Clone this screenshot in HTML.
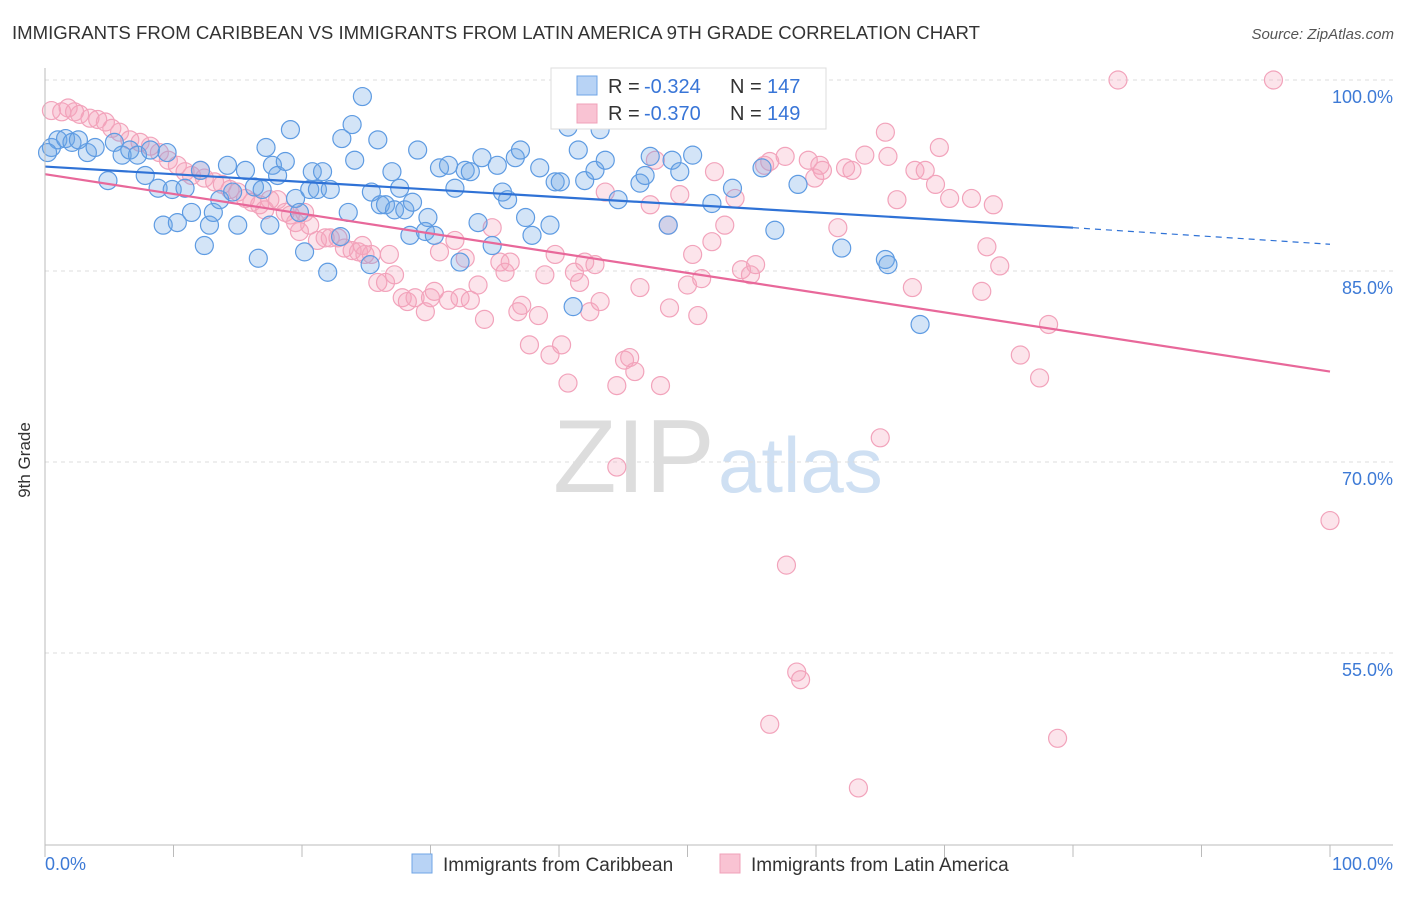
<!DOCTYPE html>
<html><head><meta charset="utf-8"><style>
body{margin:0;background:#fff;font-family:"Liberation Sans",sans-serif}
svg text{font-family:"Liberation Sans",sans-serif}
</style></head><body>
<svg id="c" width="1406" height="892" xmlns="http://www.w3.org/2000/svg">
<text x="12" y="39" font-size="18.6" fill="#333">IMMIGRANTS FROM CARIBBEAN VS IMMIGRANTS FROM LATIN AMERICA 9TH GRADE CORRELATION CHART</text>
<text x="1394" y="39" font-size="15" fill="#555" text-anchor="end" font-style="italic">Source: ZipAtlas.com</text>
<g><text x="553" y="492" font-size="104" fill="#ddd" font-family="Liberation Serif">ZIP</text><text x="718" y="492" font-size="78" fill="#cfe0f3">atlas</text></g>
<g id="grid"></g><g id="pts"></g><g id="lines"></g><g id="axes"></g>
<text x="30" y="460" font-size="17" fill="#333" transform="rotate(-90 30 460)" text-anchor="middle">9th Grade</text>
<g>
<rect x="551" y="68" width="275" height="61" fill="#fff" stroke="#ddd"/>
<rect x="577" y="76" width="20" height="19" fill="#b8d3f5" stroke="#6fa4e6"/>
<rect x="577" y="104" width="20" height="19" fill="#f9c3d3" stroke="#f0a0b8"/>
<text x="608" y="93" font-size="20" fill="#333">R =</text><text x="644" y="93" font-size="20" fill="#3875d7">-0.324</text>
<text x="730" y="93" font-size="20" fill="#333">N =</text><text x="767" y="93" font-size="20" fill="#3875d7">147</text>
<text x="608" y="120" font-size="20" fill="#333">R =</text><text x="644" y="120" font-size="20" fill="#3875d7">-0.370</text>
<text x="730" y="120" font-size="20" fill="#333">N =</text><text x="767" y="120" font-size="20" fill="#3875d7">149</text>
</g>
<g>
<rect x="412" y="854" width="20" height="19" fill="#b8d3f5" stroke="#6fa4e6"/>
<text x="443" y="871" font-size="19" fill="#333">Immigrants from Caribbean</text>
<rect x="720" y="854" width="20" height="19" fill="#f9c3d3" stroke="#f0a0b8"/>
<text x="751" y="871" font-size="19" fill="#333">Immigrants from Latin America</text>
</g>
</svg>
<script>
const yTicks=[100,85,70,55];
const yTickLabels=["100.0%","85.0%","70.0%","55.0%"];
const xTickLabels=["0.0%","100.0%"];
const blueX=[0.5,1.0,1.6,2.1,2.6,3.3,3.9,4.9,5.4,6.0,6.6,7.2,7.8,8.2,8.8,9.2,9.5,9.9,10.3,10.9,11.4,12.1,12.4,12.8,13.1,13.6,14.2,14.6,15.0,15.6,16.3,16.6,16.9,17.2,17.5,17.7,18.1,18.7,19.1,19.5,19.8,20.2,20.6,20.8,21.2,21.6,22.0,22.2,23.0,23.1,23.6,23.9,24.1,24.7,25.3,25.4,25.9,26.1,26.5,27.0,27.2,27.6,28.0,28.4,28.6,29.0,29.6,29.8,30.3,30.7,31.4,31.9,32.3,32.7,33.1,33.7,34.0,34.8,35.2,35.6,36.0,36.6,37.0,37.4,37.9,38.5,39.3,39.7,40.1,40.7,41.1,41.5,42.0,42.8,43.6,44.6,46.3,46.7,47.1,48.5,48.8,49.4,50.4,52.1,51.9,53.5,55.8,56.8,58.6,62.0,65.4,65.6,68.1,0.2,43.2];
const blueY=[94.7,95.3,95.4,95.1,95.3,94.3,94.7,92.1,95.1,94.1,94.5,94.1,92.5,94.5,91.5,88.6,94.3,91.4,88.8,91.5,89.6,92.9,87.0,88.6,89.6,90.6,93.3,91.2,88.6,92.9,91.6,86.0,91.4,94.7,88.6,93.3,92.5,93.6,96.1,90.7,89.6,86.5,91.4,92.8,91.4,92.8,84.9,91.4,87.7,95.4,89.6,96.5,93.7,98.7,85.5,91.2,95.3,90.2,90.2,92.8,89.8,91.5,89.8,87.8,90.4,94.5,88.1,89.2,87.8,93.1,93.3,91.5,85.7,92.9,92.8,88.8,93.9,87.0,93.3,91.2,90.6,93.9,94.5,89.2,87.8,93.1,88.6,92.0,92.0,96.3,82.2,94.5,92.1,92.9,93.7,90.6,91.9,92.5,94.0,88.6,93.7,92.8,94.1,99.8,90.3,91.5,93.1,88.2,91.8,86.8,85.9,85.5,80.8,94.3,96.1];
const pinkX=[0.5,1.3,1.8,2.3,2.7,3.5,4.1,4.7,5.2,5.8,6.6,7.4,8.2,8.9,9.6,10.3,10.9,11.4,12.1,12.4,13.2,13.8,14.4,15.0,15.6,16.1,16.7,17.1,17.5,18.1,18.7,19.1,19.5,19.8,20.2,20.6,21.2,21.8,22.2,22.8,23.3,23.9,24.4,24.7,24.9,25.4,25.9,26.5,26.8,27.2,27.8,28.2,28.8,29.6,30.0,30.3,30.7,31.4,31.9,32.3,32.7,33.1,33.7,34.2,34.8,35.4,35.8,36.2,36.8,37.1,37.7,38.4,38.9,39.3,39.7,40.2,40.7,41.2,41.6,42.0,42.4,42.8,43.2,43.6,44.5,45.1,45.5,45.9,46.3,47.1,47.5,47.9,48.5,48.6,49.4,50.0,50.4,50.8,51.1,51.9,52.1,52.9,53.7,54.2,54.9,55.3,56.0,56.4,57.6,57.7,58.5,58.8,59.4,59.9,60.3,60.5,61.7,62.3,62.8,63.3,63.8,65.0,65.4,65.6,66.3,67.5,67.7,68.5,69.3,69.6,70.4,72.1,72.9,73.3,73.8,74.3,75.9,77.4,78.1,78.8,83.5,95.6,100.0,44.5,56.4];
const pinkY=[97.6,97.5,97.8,97.5,97.3,97.0,96.9,96.7,96.2,95.9,95.3,95.1,94.8,94.3,93.7,93.3,92.8,92.5,92.9,92.3,92.0,91.8,91.4,91.2,90.7,90.4,90.2,89.8,90.6,90.6,89.6,89.4,88.8,88.1,89.6,88.6,87.4,87.6,87.6,87.6,86.8,86.6,86.5,87.0,86.3,86.3,84.1,84.1,86.3,84.7,82.9,82.6,82.9,81.8,82.9,83.4,86.5,82.7,87.4,82.9,86.0,82.7,83.9,81.2,88.4,85.7,84.9,85.7,81.8,82.3,79.2,81.5,84.7,78.4,86.3,79.2,76.2,84.9,84.1,85.7,81.8,85.5,82.6,91.2,76.0,78.0,78.2,77.1,83.7,90.2,93.7,76.0,88.6,82.1,91.0,83.9,86.3,81.5,84.4,87.3,92.8,88.6,90.7,85.1,84.7,85.5,93.3,93.6,94.0,61.9,53.5,52.9,93.7,92.3,93.3,92.9,88.4,93.1,92.9,44.4,94.1,71.9,95.9,94.0,90.6,83.7,92.9,92.9,91.8,94.7,90.7,90.7,83.4,86.9,90.2,85.4,78.4,76.6,80.8,48.3,100.0,100.0,65.4,69.6,49.4];
const blueTrend=[93.2,88.4,87.1]; // at x=0, 80, 100
const pinkTrend=[92.6,77.1];       // at x=0, 100
const NS="http://www.w3.org/2000/svg";
const sx=v=>45+v*12.85, sy=v=>80+(100-v)*12.733;
function mk(p,t,a){const e=document.createElementNS(NS,t);for(const k in a)e.setAttribute(k,a[k]);p.appendChild(e);return e;}
const grid=document.getElementById('grid'),axes=document.getElementById('axes'),pts=document.getElementById('pts'),lines=document.getElementById('lines');
yTicks.forEach((v,i)=>{
 const l=mk(grid,'line',{x1:45,x2:1393,y1:sy(v),y2:sy(v),stroke:'#ddd','stroke-dasharray':'4 4'});
 
 
 const t=mk(axes,'text',{x:1393,y:sy(v)+23,'font-size':18,fill:'#3d7ad6','text-anchor':'end'});
 t.textContent=yTickLabels[i];
 
 
});
const ya=mk(axes,'line',{x1:45,x2:45,y1:68,y2:845,stroke:'#bbb'});


const xa=mk(axes,'line',{x1:45,x2:1393,y1:845,y2:845,stroke:'#bbb'});


for(let i=0;i<=10;i++){const tk=mk(axes,'line',{x1:sx(i*10),x2:sx(i*10),y1:845,y2:857,stroke:'#bbb'});
 
 }
[[0,'start',45],[100,'end',1393]].forEach((d,i)=>{const t=mk(axes,'text',{x:d[2],y:870,'font-size':18,fill:'#3d7ad6','text-anchor':d[1]});t.textContent=xTickLabels[i];
 
 });
pinkX.forEach((x,i)=>{const c=mk(pts,'circle',{cx:sx(x),cy:sy(pinkY[i]),r:9,fill:'rgba(246,165,190,0.3)',stroke:'#f2a3bb','stroke-width':1.2});
 
 });
blueX.forEach((x,i)=>{const c=mk(pts,'circle',{cx:sx(x),cy:sy(blueY[i]),r:9,fill:'rgba(110,165,230,0.3)',stroke:'#5e9be2','stroke-width':1.2});
 
 });
const b1=mk(lines,'line',{x1:sx(0),y1:sy(blueTrend[0]),x2:sx(80),y2:sy(blueTrend[1]),stroke:'#2f72d6','stroke-width':2.2});


const b2=mk(lines,'line',{x1:sx(80),y1:sy(blueTrend[1]),x2:sx(100),y2:sy(blueTrend[2]),stroke:'#2f72d6','stroke-width':1.2,'stroke-dasharray':'6 5'});


const p1=mk(lines,'line',{x1:sx(0),y1:sy(pinkTrend[0]),x2:sx(100),y2:sy(pinkTrend[1]),stroke:'#e8689a','stroke-width':2.2});


</script>
</body></html>
